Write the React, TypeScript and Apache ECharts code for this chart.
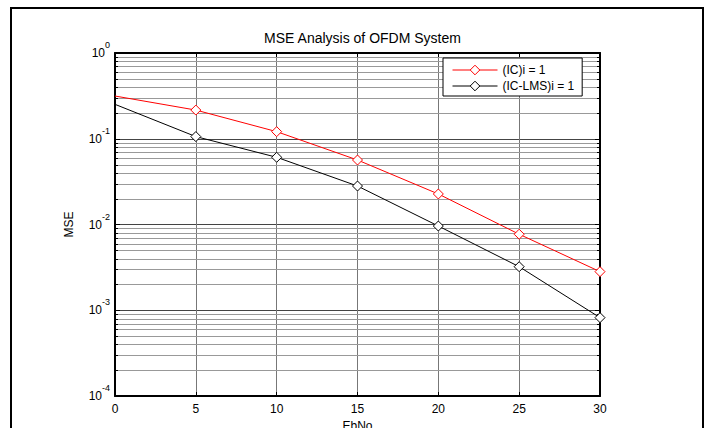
import React, { useEffect, useRef } from "react";
import * as echarts from "echarts";

const FONT = "'Liberation Sans', Arial, sans-serif";

const ebno = [0, 5, 10, 15, 20, 25, 30];
const mseIC = [0.315, 0.216, 0.121, 0.0565, 0.0227, 0.0077, 0.00282];
const mseICLMS = [0.252, 0.106, 0.0608, 0.0281, 0.0096, 0.00322, 0.00082];
const seriesNames = ["(IC)i = 1", "(IC-LMS)i = 1"];
const decades = [1e-4, 1e-3, 1e-2, 1e-1];
const minorMultipliers = [2, 3, 4, 5, 6, 7, 8, 9];

const minorValues: number[] = [];
decades.forEach((d) => minorMultipliers.forEach((m) => minorValues.push(m * d)));

function toData(ys: number[]) {
  return ebno.map((x, i) =>
    i === 0 ? { value: [x, ys[i]], symbol: "none" } : { value: [x, ys[i]] }
  );
}

export default function App() {
  const ref = useRef<HTMLDivElement>(null);
  useEffect(() => {
    document.body.style.margin = "0";
    const chart = echarts.init(ref.current!, null, { renderer: "svg" });
    const axisLineStyle = { color: "#000", width: 2 };
    const yLog = {
      type: "log",
      logBase: 10,
      min: 1e-4,
      max: 1,
      splitNumber: 4,
    };
    chart.setOption({
      animation: false,
      backgroundColor: "#fff",
      textStyle: { fontFamily: FONT },
      title: {
        text: "MSE Analysis of OFDM System",
        left: 357.5,
        textAlign: "center",
        top: 26,
        textStyle: { fontSize: 14, fontWeight: "normal", color: "#000", fontFamily: FONT },
      },
      grid: {
        left: 115,
        right: 109,
        top: 53,
        bottom: 32,
        containLabel: false,
        outerBoundsMode: "none",
      },
      legend: {
        left: 443,
        top: 58,
        orient: "vertical",
        backgroundColor: "#fff",
        borderColor: "#000",
        borderWidth: 1,
        borderRadius: 0,
        padding: [6, 8, 4, 9],
        itemGap: 4,
        itemWidth: 45,
        itemHeight: 12,
        data: seriesNames,
        itemStyle: { borderWidth: 1 },
        lineStyle: { width: 1 },
        textStyle: { fontSize: 12, color: "#000", fontFamily: FONT },
      },
      graphic: [
        {
          type: "rect",
          silent: true,
          shape: { x: 11, y: 8, width: 692, height: 440 },
          style: { fill: "none", stroke: "#000", lineWidth: 2 },
        },
      ],
      xAxis: [
        {
          type: "value",
          min: 0,
          max: 30,
          interval: 5,
          position: "bottom",
          name: "EbNo",
          nameLocation: "middle",
          nameGap: 20,
          nameTextStyle: { fontSize: 12, color: "#000", fontFamily: FONT },
          axisLine: { show: true, onZero: false, lineStyle: axisLineStyle },
          axisTick: { show: true, inside: true, length: 4, lineStyle: { color: "#000" } },
          axisLabel: { fontSize: 12, color: "#000", margin: 7, fontFamily: FONT },
          splitLine: { show: true, lineStyle: { color: "#777", width: 1 } },
        },
        {
          type: "value",
          min: 0,
          max: 30,
          interval: 5,
          position: "top",
          axisLine: { show: true, onZero: false, lineStyle: axisLineStyle },
          axisTick: { show: true, inside: true, length: 4, lineStyle: { color: "#000" } },
          axisLabel: { show: false },
          splitLine: { show: false },
        },
      ],
      yAxis: [
        {
          ...yLog,
          position: "left",
          name: "MSE",
          nameLocation: "middle",
          nameGap: 40,
          nameTextStyle: { fontSize: 12, color: "#000", fontFamily: FONT },
          axisLine: { show: true, onZero: false, lineStyle: axisLineStyle },
          axisTick: { show: true, inside: true, length: 5, lineStyle: { color: "#000" } },
          axisLabel: {
            margin: 5,
            formatter: (v: number) => `{a|10}{b|${Math.round(Math.log10(v))}}`,
            rich: {
              a: { fontSize: 12, color: "#000", fontFamily: FONT },
              b: { fontSize: 9, color: "#000", fontFamily: FONT, padding: [0, 0, 16, 0] },
            },
          },
          splitLine: { show: true, lineStyle: { color: "#444", width: 1 } },
        },
        {
          ...yLog,
          position: "right",
          axisLine: { show: true, onZero: false, lineStyle: axisLineStyle },
          axisTick: { show: true, inside: true, length: 5, lineStyle: { color: "#000" } },
          axisLabel: { show: false },
          splitLine: { show: false },
        },
      ],
      series: [
        {
          type: "custom",
          silent: true,
          z: 1,
          xAxisIndex: 0,
          yAxisIndex: 0,
          data: minorValues.map((v) => [0, v]),
          renderItem: (params: any, api: any) => {
            const cs = params.coordSys;
            const p = api.coord([0, api.value(1)]);
            const y = Math.round(p[1]) + 0.5;
            return {
              type: "group",
              children: [
                {
                  type: "line",
                  shape: { x1: cs.x, y1: y, x2: cs.x + cs.width, y2: y },
                  style: { stroke: "#999", lineWidth: 1 },
                },
                {
                  type: "line",
                  shape: { x1: cs.x, y1: y, x2: cs.x + 3, y2: y },
                  style: { stroke: "#000", lineWidth: 1 },
                },
                {
                  type: "line",
                  shape: { x1: cs.x + cs.width - 3, y1: y, x2: cs.x + cs.width, y2: y },
                  style: { stroke: "#000", lineWidth: 1 },
                },
              ],
            };
          },
        },
        {
          name: seriesNames[0],
          type: "line",
          z: 3,
          data: toData(mseIC),
          symbol: "diamond",
          symbolSize: 10,
          lineStyle: { color: "#ff0000", width: 1 },
          itemStyle: { color: "#fff", borderColor: "#ff0000", borderWidth: 1 },
        },
        {
          name: seriesNames[1],
          type: "line",
          z: 3,
          data: toData(mseICLMS),
          symbol: "diamond",
          symbolSize: 10,
          lineStyle: { color: "#000", width: 1 },
          itemStyle: { color: "#fff", borderColor: "#000", borderWidth: 1 },
        },
      ],
    });
    return () => chart.dispose();
  }, []);
  return (
    <div
      ref={ref}
      style={{ position: "fixed", left: 0, top: 0, width: 709, height: 428 }}
    />
  );
}
